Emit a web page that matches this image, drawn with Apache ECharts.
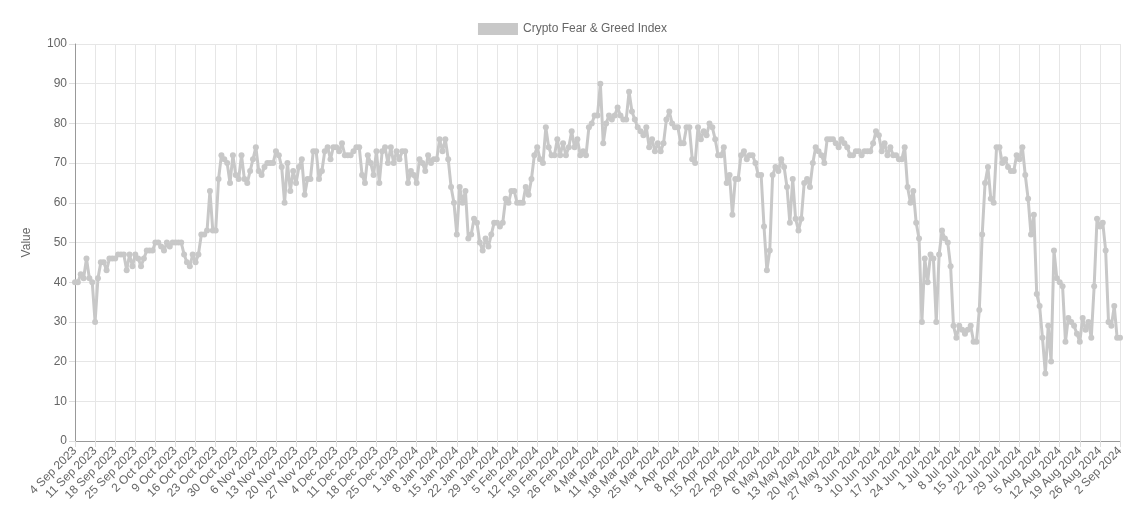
<!DOCTYPE html>
<html><head><meta charset="utf-8">
<script src="https://cdn.jsdelivr.net/npm/echarts@6/dist/echarts.min.js"></script>
<style>html,body{margin:0;padding:0;background:#fff}#c{width:1145px;height:525px}</style>
</head><body><div id="c"></div>
<script>
const seriesName = "Crypto Fear & Greed Index";
const startDate = [2023, 8, 4];
const values = [
40,40,42,41,46,41,40,
30,41,45,45,43,46,46,
46,47,47,47,43,47,44,
47,46,44,46,48,48,48,
50,50,49,48,50,49,50,
50,50,50,47,45,44,47,
45,47,52,52,53,63,53,
53,66,72,71,70,65,72,
67,66,72,66,65,68,71,
74,68,67,69,70,70,70,
73,72,69,60,70,63,68,
65,69,71,62,66,66,73,
73,66,68,73,74,71,74,
74,73,75,72,72,72,73,
74,74,67,65,72,70,67,
73,65,73,74,70,74,70,
73,71,73,73,65,68,67,
65,71,70,68,72,70,71,
71,76,73,76,71,64,60,
52,64,60,63,51,52,56,
55,50,48,51,49,52,55,
55,54,55,61,60,63,63,
60,60,60,64,62,66,72,
74,71,70,79,74,72,72,
76,72,75,72,74,78,74,
76,72,73,72,79,80,82,
82,90,75,80,82,81,82,
84,82,81,81,88,83,81,
79,78,77,79,74,76,73,
75,73,75,81,83,80,79,
79,75,75,79,79,71,70,
79,76,78,77,80,79,76,
72,72,74,65,67,57,66,
66,72,73,71,72,72,70,
67,67,54,43,48,67,69,
68,71,69,64,55,66,56,
53,56,65,66,64,70,74,
73,72,70,76,76,76,75,
74,76,75,74,72,72,73,
73,72,73,73,73,75,78,
77,73,75,72,74,72,72,
71,71,74,64,60,63,55,
51,30,46,40,47,46,30,
47,53,51,50,44,29,26,
29,28,27,28,29,25,25,
33,52,65,69,61,60,74,
74,70,71,69,68,68,72,
71,74,67,61,52,57,37,
34,26,17,29,20,48,41,
40,39,25,31,30,29,27,
25,31,28,30,26,39,56,
54,55,48,30,29,34,26,
26
];
const months = ["Jan","Feb","Mar","Apr","May","Jun","Jul","Aug","Sep","Oct","Nov","Dec"];
const categories = values.map((_, i) => {
  const d = new Date(startDate[0], startDate[1], startDate[2] + i);
  return d.getDate() + " " + months[d.getMonth()] + " " + d.getFullYear();
});
const chart = echarts.init(document.getElementById('c'));
chart.setOption({
  animation: false,
  textStyle: {fontFamily: "Liberation Sans, Arial, sans-serif"},
  legend: {top: 18, itemWidth: 40, itemHeight: 12, itemGap: 10,
    textStyle: {color: '#666', fontSize: 12},
    data: [{name: seriesName, icon: 'rect', itemStyle: {color: '#c8c8c8'}}]},
  grid: {left: 75, right: 25, top: 44, bottom: 84},
  xAxis: {type: 'category', data: categories, boundaryGap: false,
    axisLine: {lineStyle: {color: '#999'}}, axisTick: {show: true, interval: 6, lineStyle: {color: '#ddd'}, length: 6},
    axisLabel: {interval: 6, rotate: 45, color: '#666', fontSize: 12, margin: 8},
    splitLine: {show: true, interval: 6, lineStyle: {color: '#e6e6e6'}}},
  yAxis: {type: 'value', min: 0, max: 100, interval: 10, name: 'Value', nameLocation: 'middle', nameGap: 42,
    nameTextStyle: {color: '#666', fontSize: 12},
    axisLine: {show: true, lineStyle: {color: '#999'}}, axisTick: {show: true, lineStyle: {color: '#ddd'}, length: 6},
    axisLabel: {color: '#666', fontSize: 12},
    splitLine: {lineStyle: {color: '#e6e6e6'}}},
  series: [{name: seriesName, type: 'line', data: values, symbol: 'circle', symbolSize: 6, showAllSymbol: true,
    lineStyle: {color: '#c8c8c8', width: 3}, itemStyle: {color: '#c8c8c8'}}]
});
</script></body></html>
